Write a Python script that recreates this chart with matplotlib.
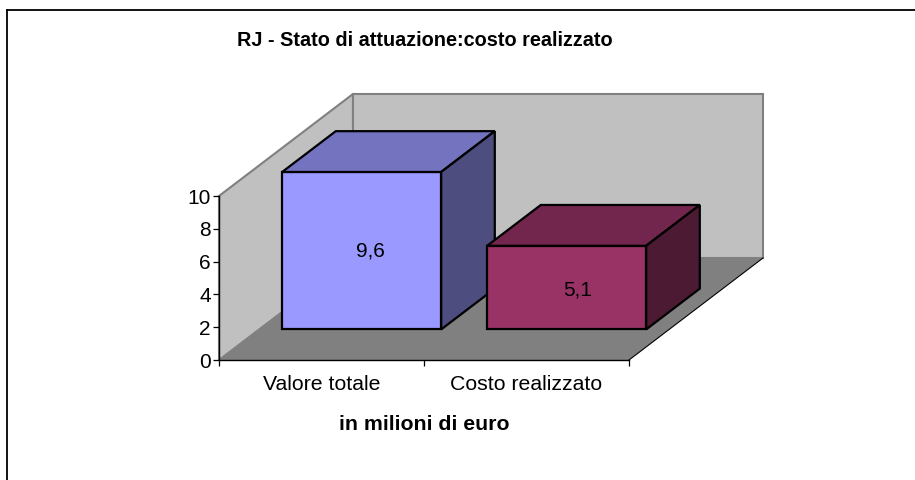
import matplotlib
matplotlib.use("Agg")
import matplotlib.pyplot as plt

plt.rcParams["font.family"] = ["Liberation Sans", "DejaVu Sans"]

categorie = ["Valore totale", "Costo realizzato"]
valori = [9.6, 5.1]
etichette = ["9,6", "5,1"]
colori_fronte = ["#9999FF", "#993366"]
colori_sopra = ["#7373BF", "#73264D"]
colori_lato = ["#4D4D80", "#4D1A33"]
y_ticks = [0, 2, 4, 6, 8, 10]

# Sposta un punto (x, y) indietro di z nella profondita del grafico 3D
DX = 134 / 205
DY = 102 / 16.4


def proj(x, y, z):
    return x + z * DX, y + z * DY


def faccia(ax, punti, color, edge, lw, zorder):
    xs, ys = zip(*[proj(*p) for p in punti])
    ax.fill(xs, ys, facecolor=color, edgecolor=edge, linewidth=lw,
            joinstyle="miter", clip_on=False, zorder=zorder)


fig = plt.figure(figsize=(9.15, 4.8), dpi=100)
fig.patch.set_facecolor("white")

# Cornice esterna del grafico
fig.add_artist(plt.Line2D([7.2 / 915, 7.2 / 915], [0, 1 - 10 / 480], color="black", lw=1.3))
fig.add_artist(plt.Line2D([7.2 / 915, 1], [1 - 10 / 480, 1 - 10 / 480], color="black", lw=1.3))

ax = fig.add_axes([219 / 915, 1 - 360 / 480, 410 / 915, 164 / 480])
ax.set_xlim(0, 2)
ax.set_ylim(0, 10)
ax.patch.set_visible(False)

# Pareti e pavimento
faccia(ax, [(0, 0, 0), (0, 0, 1), (0, 10, 1), (0, 10, 0)], "#C0C0C0", "#808080", 1.5, 1)
faccia(ax, [(0, 0, 1), (2, 0, 1), (2, 10, 1), (0, 10, 1)], "#C0C0C0", "#808080", 1.5, 1)
faccia(ax, [(0, 0, 0), (2, 0, 0), (2, 0, 1), (0, 0, 1)], "#808080", "none", 0, 2)
xs, ys = zip(proj(2, 0, 0), proj(2, 0, 1))
ax.plot(xs, ys, color="black", lw=0.8, clip_on=False, zorder=3)

# Barre
larghezza = 159 / 205
z0, z1 = 0.30, 0.70
for i, v in enumerate(valori):
    x0 = i + (1 - larghezza) / 2
    x1 = x0 + larghezza
    z = 4 + i
    faccia(ax, [(x0, 0, z0), (x1, 0, z0), (x1, v, z0), (x0, v, z0)], colori_fronte[i], "black", 1.6, z)
    faccia(ax, [(x0, v, z0), (x1, v, z0), (x1, v, z1), (x0, v, z1)], colori_sopra[i], "black", 1.6, z)
    faccia(ax, [(x1, 0, z0), (x1, 0, z1), (x1, v, z1), (x1, v, z0)], colori_lato[i], "black", 1.6, z)
    ax.annotate(etichette[i], proj(i + 0.5, v / 2, z0), xytext=(6 + 1.7 * i, -0.5 - i), textcoords="offset points",
                ha="center", va="center", fontsize=15, color="black", zorder=10)

for s in ["top", "right"]:
    ax.spines[s].set_visible(False)
ax.spines["bottom"].set_linewidth(1)
ax.spines["left"].set_linewidth(1)
ax.spines["bottom"].set_zorder(3)
ax.spines["left"].set_zorder(3)

ax.set_yticks(y_ticks)
ax.tick_params(axis="y", length=4, width=0.9, pad=2, labelsize=15)
ax.set_xticks([0, 1, 2])
ax.set_xticklabels([])
ax.set_xticks([0.5, 1.5], minor=True)
ax.set_xticklabels(categorie, minor=True, fontsize=15.3)
ax.tick_params(axis="x", which="major", length=4, width=0.9)
ax.tick_params(axis="x", which="minor", length=0, pad=11)

fig.text(424.5 / 915, 1 - 40 / 480, "RJ - Stato di attuazione:costo realizzato", ha="center", va="center",
         fontsize=14.3, fontweight="bold")
fig.text(424 / 915, 1 - 424 / 480, "in milioni di euro", ha="center", va="center",
         fontsize=15.3, fontweight="bold")

fig.savefig("out.png", dpi=100)
